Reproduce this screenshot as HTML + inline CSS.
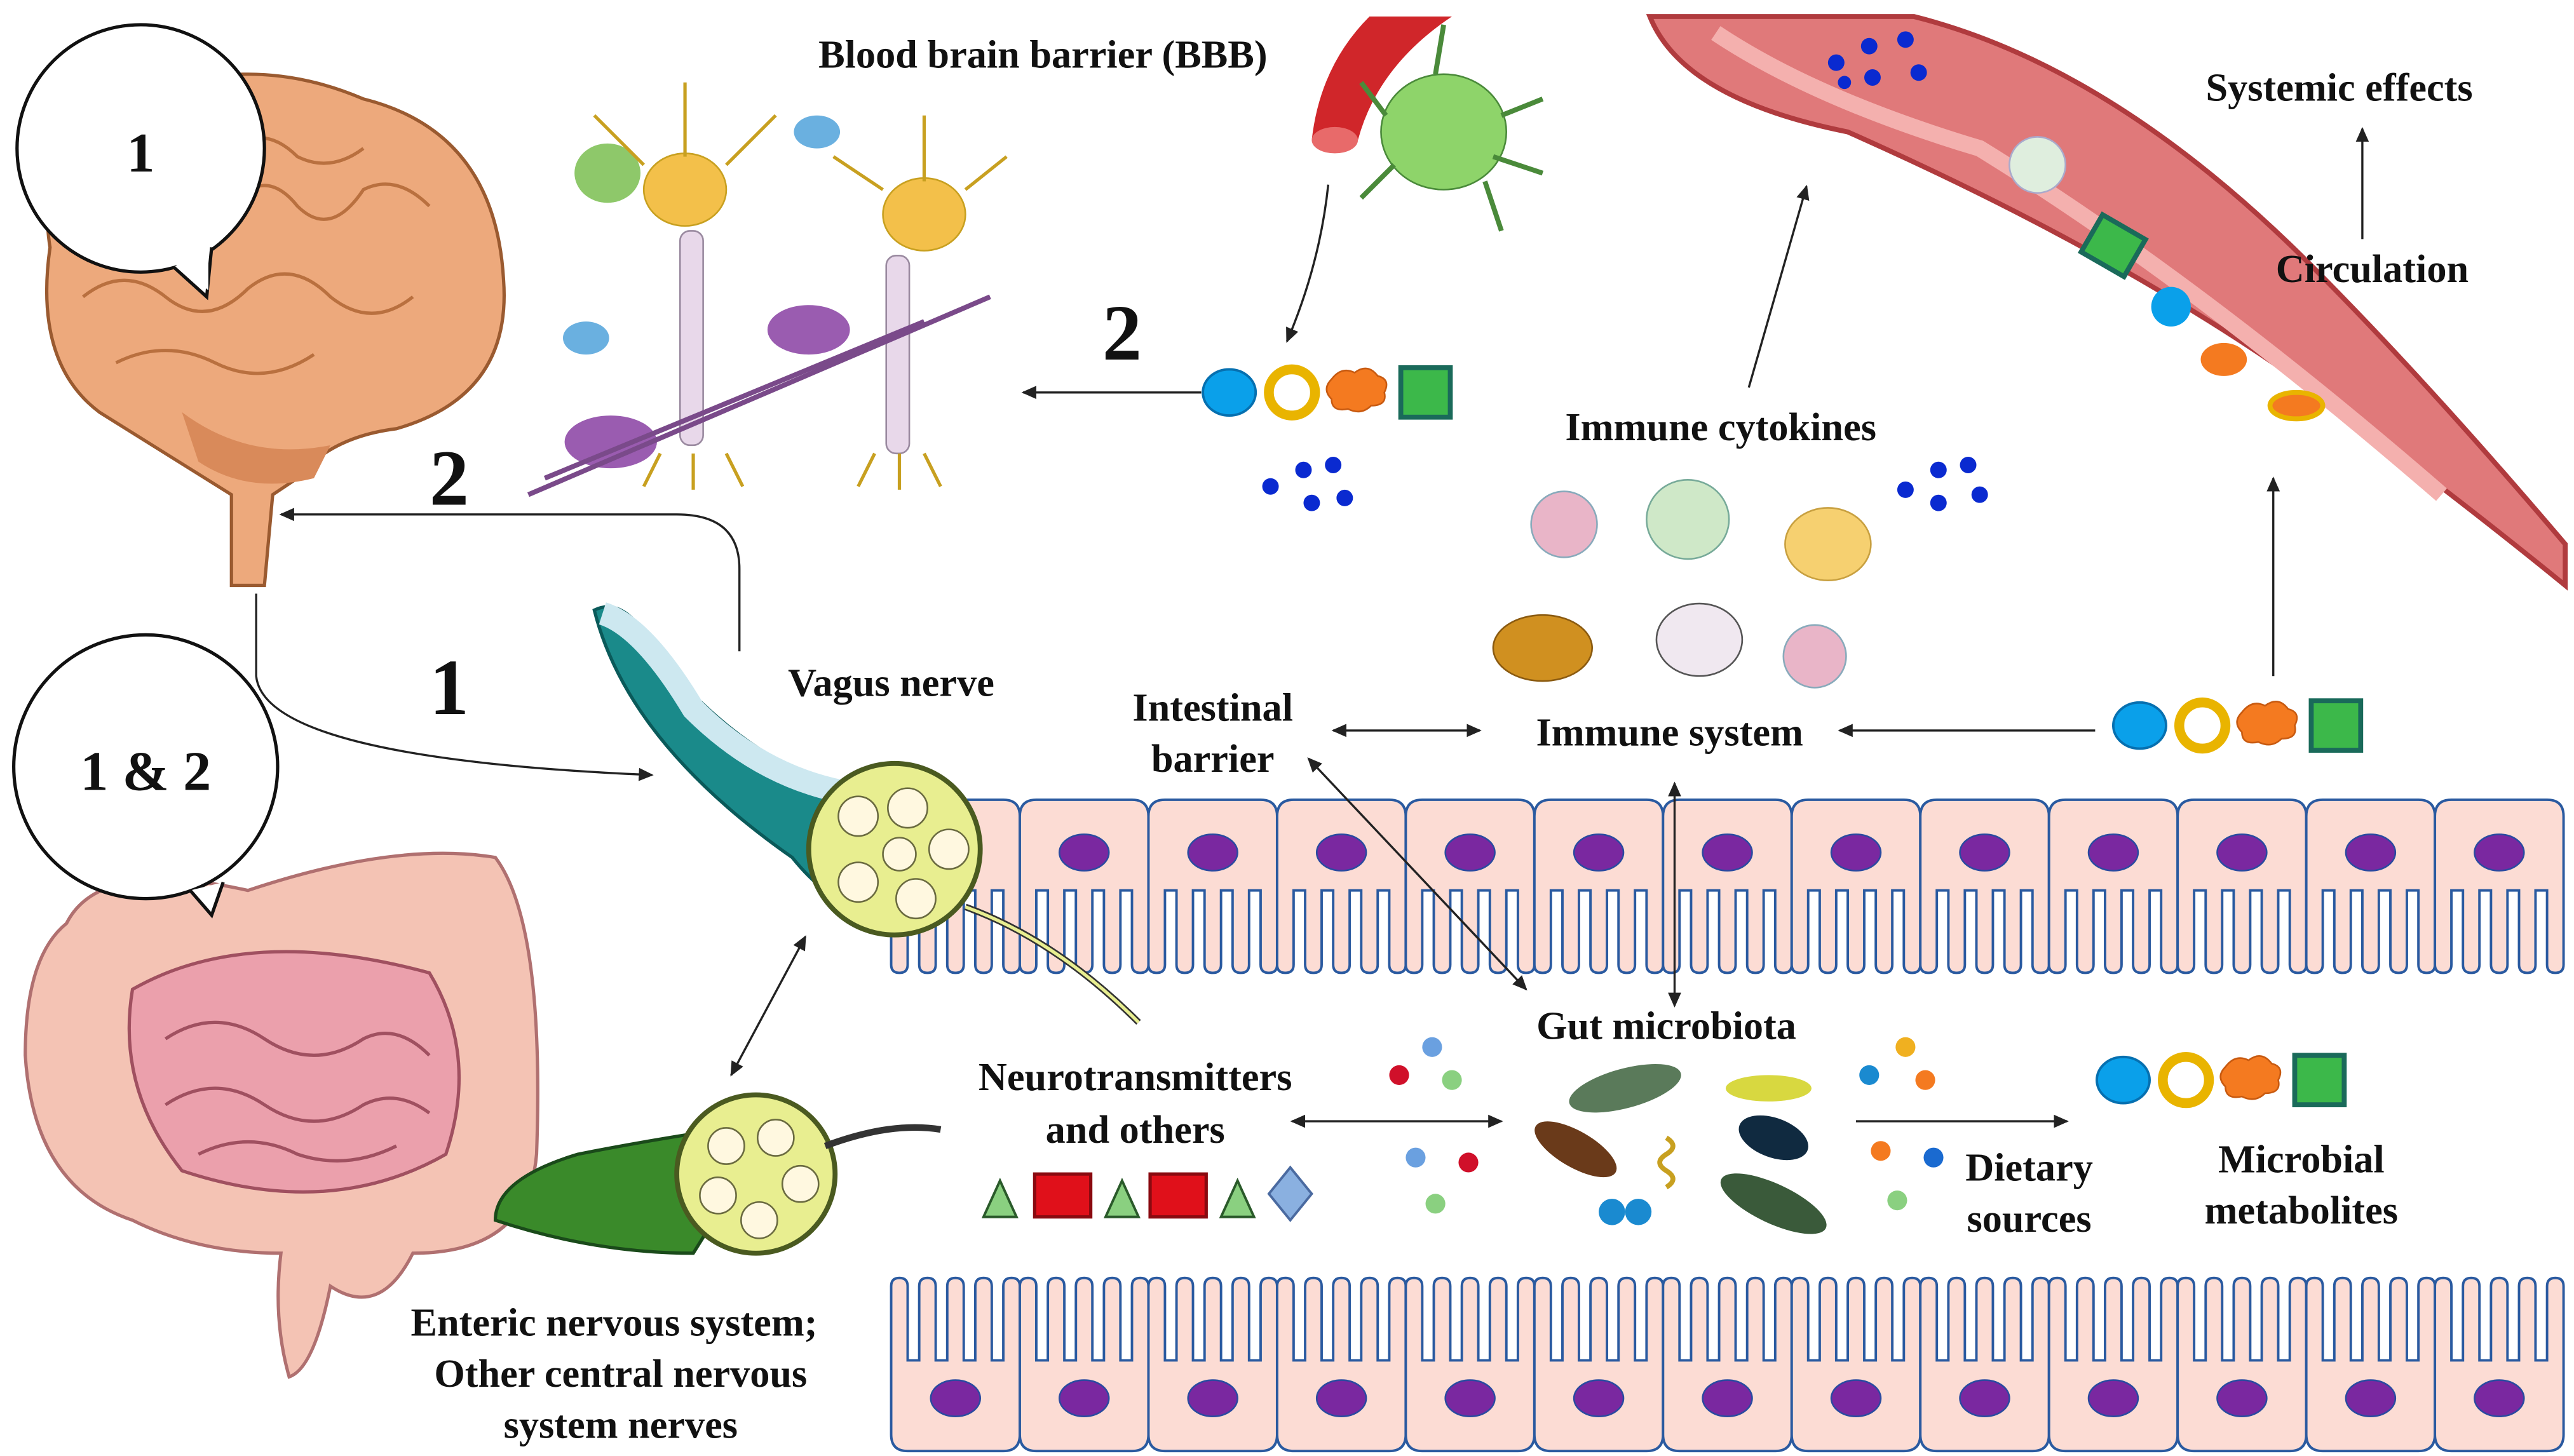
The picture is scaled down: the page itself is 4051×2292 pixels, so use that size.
<!DOCTYPE html>
<html><head><meta charset="utf-8">
<style>
html,body{margin:0;padding:0;background:#fff;}
svg{display:block;}
text{font-family:"Liberation Serif",serif;font-weight:bold;fill:#111;}
</style></head>
<body>
<svg width="4051" height="2292" viewBox="0 0 1560 883" xmlns="http://www.w3.org/2000/svg">
<defs>
<marker id="a" markerWidth="10" markerHeight="10" refX="8" refY="5" orient="auto-start-reverse" markerUnits="userSpaceOnUse">
<path d="M0,1 L9,5 L0,9 z" fill="#222"/></marker>
<g id="met">
<ellipse cx="0" cy="0" rx="16" ry="14" fill="#0aa0ea" stroke="#0670b0" stroke-width="1.5"/>
<circle cx="38" cy="0" r="14" fill="#fff" stroke="#e9b400" stroke-width="6"/>
<path d="M62,-8 q6,-8 14,-4 q8,-6 14,2 q8,2 4,10 q2,8 -8,8 q-6,6 -14,2 q-10,2 -10,-6 q-6,-6 0,-12z" fill="#f47a20" stroke="#c85a10"/>
<rect x="104" y="-15" width="30" height="30" fill="#3cb84a" stroke="#1a6a5a" stroke-width="3"/>
</g>
<g id="cell">
<path d="M0,10 Q0,0 10,0 H68 Q78,0 78,10 V100 Q78,105 73,105 Q68,105 68,100 V55 H61 V100 Q61,105 56,105 Q51,105 51,100 V55 H44 V100 Q44,105 39,105 Q34,105 34,100 V55 H27 V100 Q27,105 22,105 Q17,105 17,100 V55 H10 V100 Q10,105 5,105 Q0,105 0,100 Z" fill="#fcdcd4" stroke="#2a5aa0" stroke-width="1.5"/>
<ellipse cx="39" cy="32" rx="15" ry="11" fill="#7a28a0" stroke="#2a4aa0" stroke-width="1"/>
</g>
</defs>

<!-- big blood vessel -->
<path d="M1000,10 Q1020,60 1120,80 Q1300,160 1420,250 Q1500,310 1555,355 L1555,330 Q1470,230 1400,160 Q1280,40 1160,10 z" fill="#e0797a" stroke="#b03b3e" stroke-width="3"/>
<path d="M1040,20 Q1100,60 1200,90 Q1330,170 1480,300" fill="none" stroke="#f4b0ae" stroke-width="10"/>
<g fill="#0a2ad0"><circle cx="1113" cy="38" r="5"/><circle cx="1133" cy="28" r="5"/><circle cx="1155" cy="24" r="5"/><circle cx="1135" cy="47" r="5"/><circle cx="1163" cy="44" r="5"/><circle cx="1118" cy="50" r="4"/></g>
<circle cx="1235" cy="100" r="17" fill="#dfeede" stroke="#aac"/>
<rect x="1266" y="136" width="30" height="26" fill="#3cb84a" stroke="#1a6a5a" stroke-width="3" transform="rotate(30 1281 149)"/>
<circle cx="1316" cy="186" r="12" fill="#0aa0ea"/>
<ellipse cx="1348" cy="218" rx="14" ry="10" fill="#f47a20"/>
<ellipse cx="1392" cy="246" rx="16" ry="8" fill="#f47a20" stroke="#e9b400" stroke-width="3"/>

<!-- top small vessel & glia -->
<path d="M795,85 Q800,40 830,10 L880,10 Q835,40 823,85 z" fill="#d0262a"/>
<ellipse cx="809" cy="85" rx="14" ry="8" fill="#e86a6a"/>
<ellipse cx="875" cy="80" rx="38" ry="35" fill="#8ed46a" stroke="#4a8a3a"/>
<g stroke="#4a8a3a" stroke-width="3" fill="none"><path d="M840,70 l-15,-20 M845,100 l-20,20 M900,110 l10,30 M910,70 l25,-10 M870,45 l5,-30 M905,95 l30,10"/></g>

<!-- brain -->
<path d="M30,150 Q20,90 80,60 Q150,30 220,60 Q300,80 305,170 Q310,240 240,260 Q200,265 180,290 L165,300 L160,355 L140,355 L140,300 Q100,275 60,250 Q20,220 30,150z" fill="#eda97c" stroke="#9a5a30" stroke-width="2"/>
<g fill="none" stroke="#b9703f" stroke-width="2"><path d="M60,130 q20,-20 40,0 q20,20 40,-5 q20,-25 40,0 q20,20 40,-10 q20,-10 40,10"/><path d="M50,180 q25,-20 50,0 q25,20 50,-5 q25,-20 50,5 q25,20 50,0"/><path d="M70,220 q30,-15 60,0 q30,15 60,-5"/><path d="M100,90 q20,15 40,0 q20,-15 40,5 q20,10 40,-5"/></g>
<path d="M110,250 q40,30 90,20 l-10,20 q-40,10 -70,-10z" fill="#d98a5a"/>

<!-- bubble 1 -->
<circle cx="85" cy="90" r="75" fill="#fff" stroke="#111" stroke-width="2"/>
<path d="M105,162 L125,180 L128,150" fill="#fff" stroke="#111" stroke-width="2"/>
<path d="M103,158 L126,176 L126,150z" fill="#fff"/>
<text x="85" y="104" font-size="34" text-anchor="middle">1</text>

<!-- intestines -->
<path d="M40,560 Q60,520 150,540 Q240,510 300,520 Q330,560 325,700 Q320,760 250,760 Q230,800 200,780 Q190,830 175,835 Q165,800 170,760 Q120,760 80,740 Q20,720 15,640 Q15,580 40,560z" fill="#f4c3b4" stroke="#b07070" stroke-width="2"/>
<path d="M80,600 Q150,560 260,590 Q290,640 270,700 Q200,740 110,710 Q70,660 80,600z" fill="#eba0ac" stroke="#a05060" stroke-width="2"/>
<g fill="none" stroke="#a05060" stroke-width="2"><path d="M100,630 q30,-20 60,0 q30,20 60,0 q20,-10 40,10"/><path d="M100,670 q30,-20 60,0 q30,20 60,0 q20,-10 40,5"/><path d="M120,700 q30,-15 60,0 q30,10 60,-5"/></g>
<!-- bubble 1&2 -->
<circle cx="88" cy="465" r="80" fill="#fff" stroke="#111" stroke-width="2"/>
<path d="M115,540 L128,555 L135,535" fill="#fff" stroke="#111" stroke-width="2"/>
<text x="88" y="479" font-size="34" text-anchor="middle">1 &amp; 2</text>

<!-- neurons -->
<g>
<ellipse cx="415" cy="115" rx="25" ry="22" fill="#f3c04a" stroke="#c8a020"/>
<ellipse cx="560" cy="130" rx="25" ry="22" fill="#f3c04a" stroke="#c8a020"/>
<ellipse cx="368" cy="105" rx="20" ry="18" fill="#8ec86a"/>
<ellipse cx="495" cy="80" rx="14" ry="10" fill="#6ab0e0"/>
<ellipse cx="355" cy="205" rx="14" ry="10" fill="#6ab0e0"/>
<ellipse cx="370" cy="268" rx="28" ry="16" fill="#9a5cb0"/>
<ellipse cx="490" cy="200" rx="25" ry="15" fill="#9a5cb0"/>
<g fill="#e8d8ea" stroke="#9a8aa0"><rect x="412" y="140" width="14" height="130" rx="6"/><rect x="537" y="155" width="14" height="120" rx="6"/></g>
<g fill="none" stroke="#7a4a8a" stroke-width="3"><path d="M320,300 L600,180"/><path d="M330,290 L560,195"/></g>
<g fill="none" stroke="#c8a020" stroke-width="2"><path d="M390,100 l-30,-30 M440,100 l30,-30 M415,95 l0,-45 M535,115 l-30,-20 M585,115 l25,-20 M560,110 l0,-40 M400,275 l-10,20 M420,275 l0,22 M440,275 l10,20 M530,275 l-10,20 M545,275 l0,22 M560,275 l10,20"/></g>
</g>

<!-- epithelium top -->
<g>
<use href="#cell" x="540" y="485"/><use href="#cell" x="618" y="485"/><use href="#cell" x="696" y="485"/><use href="#cell" x="774" y="485"/><use href="#cell" x="852" y="485"/><use href="#cell" x="930" y="485"/><use href="#cell" x="1008" y="485"/><use href="#cell" x="1086" y="485"/><use href="#cell" x="1164" y="485"/><use href="#cell" x="1242" y="485"/><use href="#cell" x="1320" y="485"/><use href="#cell" x="1398" y="485"/><use href="#cell" x="1476" y="485"/>
</g>
<!-- epithelium bottom -->
<g transform="translate(0,1645) scale(1,-1)">
<use href="#cell" x="540" y="765"/><use href="#cell" x="618" y="765"/><use href="#cell" x="696" y="765"/><use href="#cell" x="774" y="765"/><use href="#cell" x="852" y="765"/><use href="#cell" x="930" y="765"/><use href="#cell" x="1008" y="765"/><use href="#cell" x="1086" y="765"/><use href="#cell" x="1164" y="765"/><use href="#cell" x="1242" y="765"/><use href="#cell" x="1320" y="765"/><use href="#cell" x="1398" y="765"/><use href="#cell" x="1476" y="765"/>
</g>

<!-- vagus nerve -->
<path d="M360,370 Q380,360 400,400 Q470,480 530,475 L570,550 Q520,570 480,520 Q380,450 360,370z" fill="#1a8a8a" stroke="#0a5a5a" stroke-width="2"/>
<path d="M365,372 Q390,380 420,430 Q460,470 510,480" fill="none" stroke="#cde8f0" stroke-width="14"/>
<path d="M585,550 Q640,570 690,620" fill="none" stroke="#333" stroke-width="4"/>
<path d="M585,550 Q640,570 690,620" fill="none" stroke="#e8ee90" stroke-width="2"/>
<circle cx="542" cy="515" r="52" fill="#e8ee90" stroke="#4a5a20" stroke-width="3"/>
<g fill="#fff8e0" stroke="#6a6a40"><circle cx="520" cy="495" r="12"/><circle cx="550" cy="490" r="12"/><circle cx="575" cy="515" r="12"/><circle cx="555" cy="545" r="12"/><circle cx="520" cy="535" r="12"/><circle cx="545" cy="518" r="10"/></g>

<!-- enteric nerve -->
<path d="M300,740 Q360,760 420,760 L470,680 Q400,690 350,700 Q300,715 300,740z" fill="#3a8a2a" stroke="#1a4a1a" stroke-width="2"/>
<circle cx="458" cy="712" r="48" fill="#e8ee90" stroke="#4a5a20" stroke-width="3"/>
<g fill="#fff8e0" stroke="#6a6a40"><circle cx="440" cy="695" r="11"/><circle cx="470" cy="690" r="11"/><circle cx="485" cy="718" r="11"/><circle cx="460" cy="740" r="11"/><circle cx="435" cy="725" r="11"/></g>
<path d="M500,695 Q540,680 570,685" fill="none" stroke="#333" stroke-width="4"/>

<!-- metabolite sets -->
<use href="#met" x="745" y="238"/>
<use href="#met" x="1297" y="440"/>
<use href="#met" x="1287" y="655"/>
<g fill="#0a2ad0"><circle cx="770" cy="295" r="5"/><circle cx="790" cy="285" r="5"/><circle cx="808" cy="282" r="5"/><circle cx="795" cy="305" r="5"/><circle cx="815" cy="302" r="5"/><circle cx="1155" cy="297" r="5"/><circle cx="1175" cy="285" r="5"/><circle cx="1193" cy="282" r="5"/><circle cx="1175" cy="305" r="5"/><circle cx="1200" cy="300" r="5"/></g>

<!-- immune cells -->
<circle cx="948" cy="318" r="20" fill="#e9b5c8" stroke="#8ab"/>
<ellipse cx="1023" cy="315" rx="25" ry="24" fill="#cfe8c8" stroke="#7a9"/>
<ellipse cx="1108" cy="330" rx="26" ry="22" fill="#f6d070" stroke="#c8a040"/>
<ellipse cx="935" cy="393" rx="30" ry="20" fill="#d09020" stroke="#8a5a10"/>
<ellipse cx="1030" cy="388" rx="26" ry="22" fill="#f0e8f0" stroke="#555"/>
<circle cx="1100" cy="398" r="19" fill="#e9b5c8" stroke="#8ab"/>

<!-- gut microbiota -->
<g>
<ellipse cx="985" cy="660" rx="35" ry="12" fill="#5a7a5a" transform="rotate(-15 985 660)"/>
<ellipse cx="955" cy="697" rx="28" ry="11" fill="#6a3a1a" transform="rotate(30 955 697)"/>
<ellipse cx="1072" cy="660" rx="26" ry="8" fill="#d8d840"/>
<ellipse cx="1075" cy="690" rx="22" ry="12" fill="#102a40" transform="rotate(20 1075 690)"/>
<ellipse cx="1075" cy="730" rx="35" ry="12" fill="#3a5a3a" transform="rotate(25 1075 730)"/>
<circle cx="977" cy="735" r="8" fill="#1a8ad0"/><circle cx="993" cy="735" r="8" fill="#1a8ad0"/>
<path d="M1010,690 q8,5 0,10 q-8,5 0,10 q8,5 0,10" fill="none" stroke="#c8a020" stroke-width="3"/>
</g>
<g><circle cx="848" cy="652" r="6" fill="#d0102a"/><circle cx="868" cy="635" r="6" fill="#6aa0e0"/><circle cx="880" cy="655" r="6" fill="#8ad080"/><circle cx="858" cy="702" r="6" fill="#6aa0e0"/><circle cx="890" cy="705" r="6" fill="#d0102a"/><circle cx="870" cy="730" r="6" fill="#8ad080"/>
<circle cx="1133" cy="652" r="6" fill="#1a8ad0"/><circle cx="1155" cy="635" r="6" fill="#f0b020"/><circle cx="1167" cy="655" r="6" fill="#f47a20"/><circle cx="1140" cy="698" r="6" fill="#f47a20"/><circle cx="1172" cy="702" r="6" fill="#1a6ad0"/><circle cx="1150" cy="728" r="6" fill="#8ad080"/></g>

<!-- neurotransmitters -->
<g stroke="#2a5a2a" stroke-width="1.5"><path d="M596,738 L606,716 L616,738z" fill="#8ad080"/><path d="M670,738 L680,716 L690,738z" fill="#8ad080"/><path d="M740,738 L750,716 L760,738z" fill="#8ad080"/></g>
<rect x="627" y="712" width="34" height="26" fill="#e0101a" stroke="#8a0a10" stroke-width="2"/>
<rect x="697" y="712" width="34" height="26" fill="#e0101a" stroke="#8a0a10" stroke-width="2"/>
<path d="M782,708 L795,724 L782,740 L769,724z" fill="#8ab0e0" stroke="#4a6aa0" stroke-width="1.5"/>

<!-- arrows -->
<g fill="none" stroke="#222" stroke-width="1.3">
<path d="M728,238 L620,238" marker-end="url(#a)"/>
<path d="M805,112 Q800,160 780,207" marker-end="url(#a)"/>
<path d="M1060,235 L1095,113" marker-end="url(#a)"/>
<path d="M1378,410 L1378,290" marker-end="url(#a)"/>
<path d="M1432,145 L1432,78" marker-end="url(#a)"/>
<path d="M1270,443 L1115,443" marker-end="url(#a)"/>
<path d="M808,443 L897,443" marker-start="url(#a)" marker-end="url(#a)"/>
<path d="M793,460 L925,600" marker-start="url(#a)" marker-end="url(#a)"/>
<path d="M1015,475 L1015,610" marker-start="url(#a)" marker-end="url(#a)"/>
<path d="M783,680 L910,680" marker-start="url(#a)" marker-end="url(#a)"/>
<path d="M1125,680 L1253,680" marker-end="url(#a)"/>
<path d="M488,568 L443,652" marker-start="url(#a)" marker-end="url(#a)"/>
<path d="M448,395 L448,345 Q448,312 410,312 L170,312" marker-end="url(#a)"/>
<path d="M155,360 L155,410 Q160,460 395,470" marker-end="url(#a)"/>
</g>

<!-- labels -->
<g font-size="24">
<text x="632" y="41" text-anchor="middle">Blood brain barrier (BBB)</text>
<text x="1418" y="61" text-anchor="middle">Systemic effects</text>
<text x="1438" y="171" text-anchor="middle">Circulation</text>
<text x="1043" y="267" text-anchor="middle">Immune cytokines</text>
<text x="540" y="422" text-anchor="middle">Vagus nerve</text>
<text x="735" y="437" text-anchor="middle">Intestinal</text>
<text x="735" y="468" text-anchor="middle">barrier</text>
<text x="1012" y="452" text-anchor="middle">Immune system</text>
<text x="1010" y="630" text-anchor="middle">Gut microbiota</text>
<text x="688" y="661" text-anchor="middle">Neurotransmitters</text>
<text x="688" y="693" text-anchor="middle">and others</text>
<text x="1230" y="716" text-anchor="middle">Dietary</text>
<text x="1230" y="747" text-anchor="middle">sources</text>
<text x="1395" y="711" text-anchor="middle">Microbial</text>
<text x="1395" y="742" text-anchor="middle">metabolites</text>
<text x="372" y="810" text-anchor="middle">Enteric nervous system;</text>
<text x="376" y="841" text-anchor="middle">Other central nervous</text>
<text x="376" y="872" text-anchor="middle">system  nerves</text>
</g>
<g font-size="48">
<text x="680" y="218" text-anchor="middle">2</text>
<text x="272" y="306" text-anchor="middle">2</text>
<text x="272" y="433" text-anchor="middle">1</text>
</g>
</svg>
</body></html>
